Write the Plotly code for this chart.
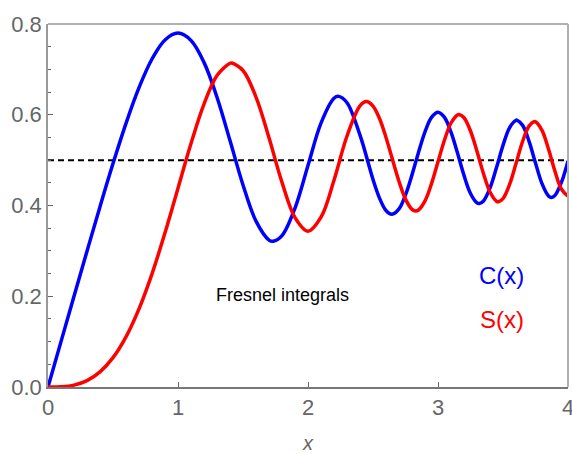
import plotly.graph_objects as go

# Fresnel cosine integral C(x)
x_c = [0.0, 0.1, 0.2, 0.3, 0.4, 0.5, 0.6, 0.7, 0.8, 0.9, 1.0, 1.1, 1.2, 1.3, 1.4, 1.5,
       1.6, 1.7, 1.732, 1.8, 1.9, 2.0, 2.1, 2.2, 2.236, 2.3, 2.4, 2.5, 2.55, 2.6, 2.646,
       2.7, 2.75, 2.8, 2.85, 2.9, 2.95, 3.0, 3.05, 3.1, 3.15, 3.2, 3.25, 3.3, 3.317,
       3.35, 3.4, 3.45, 3.5, 3.55, 3.6, 3.606, 3.65, 3.7, 3.75, 3.8, 3.85, 3.873, 3.9,
       3.95, 4.0]
c_vals = [0.0, 0.09999, 0.19992, 0.29940, 0.39748, 0.49234, 0.58110, 0.65965, 0.72284,
          0.76482, 0.77989, 0.76380, 0.71544, 0.63855, 0.54310, 0.44526, 0.36546, 0.32383,
          0.32122, 0.33363, 0.39447, 0.48825, 0.58156, 0.63629, 0.6405, 0.62656, 0.55496,
          0.45741, 0.4163, 0.38894, 0.3807, 0.39249, 0.4232, 0.46749, 0.5170, 0.56238,
          0.5942, 0.60572, 0.5941, 0.56159, 0.5155, 0.46632, 0.4264, 0.40569, 0.4043,
          0.4100, 0.43849, 0.4835, 0.53257, 0.5713, 0.58795, 0.5881, 0.5771, 0.54195,
          0.4936, 0.44810, 0.4211, 0.4179, 0.42233, 0.4514, 0.49843]

# Fresnel sine integral S(x)
x_s = [0.0, 0.1, 0.2, 0.3, 0.4, 0.5, 0.6, 0.7, 0.8, 0.9, 1.0, 1.1, 1.2, 1.3, 1.4, 1.414,
       1.5, 1.6, 1.7, 1.8, 1.9, 2.0, 2.1, 2.2, 2.3, 2.4, 2.449, 2.5, 2.55, 2.6, 2.7, 2.75,
       2.8, 2.828, 2.85, 2.9, 2.95, 3.0, 3.05, 3.1, 3.15, 3.162, 3.2, 3.25, 3.3, 3.35,
       3.4, 3.45, 3.464, 3.5, 3.55, 3.6, 3.65, 3.7, 3.742, 3.75, 3.8, 3.85, 3.9, 3.95, 4.0]
s_vals = [0.0, 0.00052, 0.00419, 0.01412, 0.03336, 0.06473, 0.11054, 0.17214, 0.24934,
          0.33978, 0.43826, 0.53650, 0.62340, 0.68633, 0.71353, 0.71397, 0.69750, 0.63889,
          0.54920, 0.45094, 0.37335, 0.34342, 0.37427, 0.45570, 0.55315, 0.61969, 0.6290,
          0.61918, 0.5916, 0.54999, 0.45292, 0.4141, 0.39153, 0.3880, 0.3901, 0.41014,
          0.4481, 0.49631, 0.5444, 0.58181, 0.5996, 0.6004, 0.59335, 0.5642, 0.51929,
          0.4701, 0.42965, 0.4094, 0.4083, 0.41525, 0.4459, 0.49231, 0.5405, 0.57498,
          0.5850, 0.5845, 0.56562, 0.5245, 0.47521, 0.4358, 0.42052]

# asymptotic reference level
ref_x = [0.0, 4.0]
ref_y = [0.5, 0.5]

x_ticks = [0, 1, 2, 3, 4]
y_ticks = [0.0, 0.2, 0.4, 0.6, 0.8]
y_tick_labels = ["0.0", "0.2", "0.4", "0.6", "0.8"]

FONT = "Liberation Sans, Arial, sans-serif"
GRAY = "#666666"

fig = go.Figure()
fig.add_trace(go.Scatter(x=ref_x, y=ref_y, mode="lines",
                         line=dict(color="black", width=2, dash="6px,4px"),
                         hoverinfo="skip", showlegend=False))
fig.add_trace(go.Scatter(x=x_c, y=c_vals, mode="lines", name="C(x)",
                         line=dict(color="#0000FF", width=3.5, shape="spline", smoothing=1),
                         showlegend=False))
fig.add_trace(go.Scatter(x=x_s, y=s_vals, mode="lines", name="S(x)",
                         line=dict(color="#FF0000", width=3.5, shape="spline", smoothing=1),
                         showlegend=False))

fig.add_annotation(x=1.8, y=0.203, text="Fresnel integrals", showarrow=False,
                   font=dict(family=FONT, size=18, color="black"))
fig.add_annotation(x=3.49, y=0.245, text="C(x)", showarrow=False,
                   font=dict(family=FONT, size=24, color="#0000FF"))
fig.add_annotation(x=3.49, y=0.148, text="S(x)", showarrow=False,
                   font=dict(family=FONT, size=24, color="#FF0000"))

# light top/right frame lines
fig.add_shape(type="line", xref="paper", yref="paper", x0=0, x1=1, y0=1, y1=1,
              line=dict(color="#b0b0b0", width=2))
fig.add_shape(type="line", xref="paper", yref="paper", x0=1, x1=1, y0=0, y1=1,
              line=dict(color="#b0b0b0", width=2))

fig.update_layout(
    width=572, height=454,
    margin=dict(l=48, r=4, t=24, b=67, autoexpand=False),
    paper_bgcolor="white", plot_bgcolor="white",
    font=dict(family=FONT, color=GRAY),
    xaxis=dict(range=[0, 4], tickvals=x_ticks, ticks="inside", ticklen=5,
               tickcolor=GRAY, tickwidth=1, showgrid=False, zeroline=False,
               showline=True, linecolor="#777777", linewidth=1.5,
               ticklabeloverflow="allow",
               tickfont=dict(family=FONT, size=22, color=GRAY),
               title=dict(text="<i>x</i>", font=dict(family=FONT, size=20, color=GRAY),
                          standoff=19)),
    yaxis=dict(range=[0, 0.8], tickvals=y_ticks, ticktext=y_tick_labels,
               ticks="inside", ticklen=5, tickcolor=GRAY, tickwidth=1,
               minor=dict(ticks="inside", ticklen=3, dtick=0.05, tickcolor=GRAY,
                          showgrid=False),
               showgrid=False, zeroline=False, showline=True,
               linecolor="#999999", linewidth=1.5,
               tickfont=dict(family=FONT, size=22, color=GRAY)),
)

fig.write_html("out.html",
               config={"displayModeBar": False},
               post_script="document.body.style.margin='0px';"
                           "document.body.style.overflow='hidden';")
